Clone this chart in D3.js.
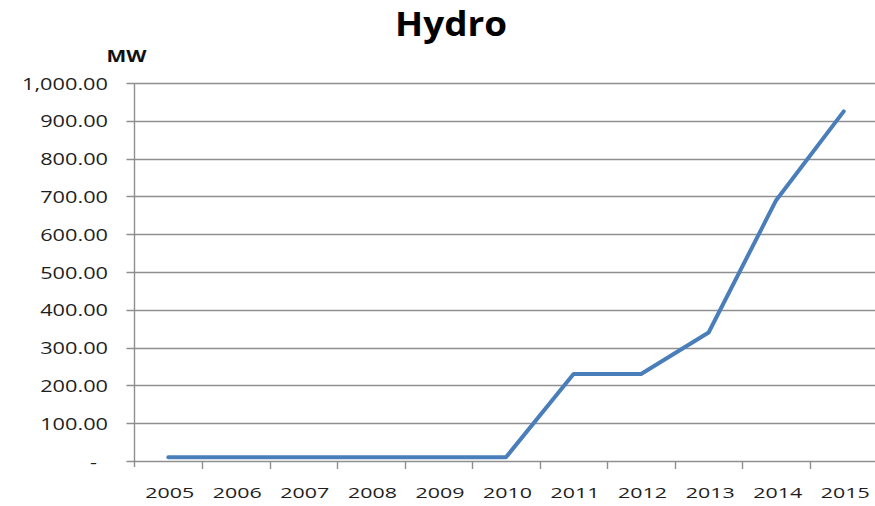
<!DOCTYPE html>
<html><head><meta charset="utf-8">
<script src="https://cdn.jsdelivr.net/npm/d3@7"></script>
<style>body{margin:0;background:#fff;}svg{display:block;}</style>
</head><body>
<script>
const years = ["2005","2006","2007","2008","2009","2010","2011","2012","2013","2014","2015"];
const hydroMW = [10,10,10,10,10,10,230,230,340,690,925];
const yTicks = [0,100,200,300,400,500,600,700,800,900,1000];
const title = "Hydro";
const unitLabel = "MW";

(function(){
const W = 875, H = 506;
const svg = d3.select("body").append("svg").attr("width", W).attr("height", H);
const mLeft = 134.5, mRight = 877.5, mTop = 83, mBottom = 461;

const x = d3.scaleBand().domain(years).range([mLeft, mRight]);
const y = d3.scaleLinear().domain([0,1000]).range([mBottom, mTop]);
const font = "'Open Sans', 'Liberation Sans', sans-serif";
const gridCol = "#8f8f8f";

// horizontal stretch helper: scale text horizontally so a reference string has the target width
function stretch(sel, refWidthPx, refNode) {
  const L = refNode.getComputedTextLength();
  const sx = refWidthPx / L;
  sel.each(function(){
    const t = d3.select(this);
    const tx = +t.attr("data-x"), ty = +t.attr("data-y");
    t.attr("x", 0).attr("y", 0).attr("transform", `translate(${tx},${ty}) scale(${sx},1)`);
  });
}

// gridlines
svg.append("g").selectAll("line").data(yTicks).join("line")
  .attr("x1", mLeft - 8).attr("x2", mRight)
  .attr("y1", d => Math.round(y(d)) + 0.5).attr("y2", d => Math.round(y(d)) + 0.5)
  .attr("stroke", gridCol).attr("stroke-width", 1.4);

// y axis line
svg.append("line").attr("x1", mLeft).attr("x2", mLeft).attr("y1", mTop).attr("y2", mBottom + 6)
  .attr("stroke", gridCol).attr("stroke-width", 1.4);

// x ticks at band boundaries
const bounds = years.map(d => x(d)).concat([x(years[years.length-1]) + x.bandwidth()]);
svg.append("g").selectAll("line").data(bounds.slice(1)).join("line")
  .attr("x1", d => Math.round(d) + 0.5).attr("x2", d => Math.round(d) + 0.5)
  .attr("y1", mBottom).attr("y2", mBottom + 8)
  .attr("stroke", gridCol).attr("stroke-width", 1.4);

// y labels
const fmt = d3.format(",.2f");
const yl = svg.append("g").selectAll("text").data(yTicks).join("text")
  .attr("data-x", d => d === 0 ? 97 : 108).attr("data-y", d => y(d) + 6.5)
  .attr("text-anchor", "end")
  .attr("font-family", font).attr("font-size", 15.5).attr("fill", "#1e1e1e")
  .text(d => d === 0 ? "-" : fmt(d));
stretch(yl, 86, yl.filter(d => d === 1000).node());

// x labels
const xl = svg.append("g").selectAll("text").data(years).join("text")
  .attr("data-x", d => x(d) + x.bandwidth()/2 + 1.5).attr("data-y", 498)
  .attr("text-anchor", "middle")
  .attr("font-family", font).attr("font-size", 15).attr("fill", "#1e1e1e")
  .text(d => d);
stretch(xl, 49, xl.node());

// line
const line = d3.line().x((d,i) => x(years[i]) + x.bandwidth()/2).y(d => y(d));
svg.append("path").datum(hydroMW).attr("d", line)
  .attr("fill", "none").attr("stroke", "#4a7ebb").attr("stroke-width", 4)
  .attr("stroke-linejoin", "round").attr("stroke-linecap", "round");

// title
const tt = svg.append("text").attr("data-x", 451).attr("data-y", 36).attr("text-anchor", "middle")
  .attr("font-family", font).attr("font-weight", "bold").attr("font-size", 34).attr("fill", "#000")
  .text(title);
stretch(tt, 112, tt.node());

const mw = svg.append("text").attr("data-x", 126.5).attr("data-y", 61.5).attr("text-anchor", "middle")
  .attr("font-family", font).attr("font-weight", "bold").attr("font-size", 16).attr("fill", "#111")
  .text(unitLabel);
stretch(mw, 40, mw.node());
})();
</script>
</body></html>
